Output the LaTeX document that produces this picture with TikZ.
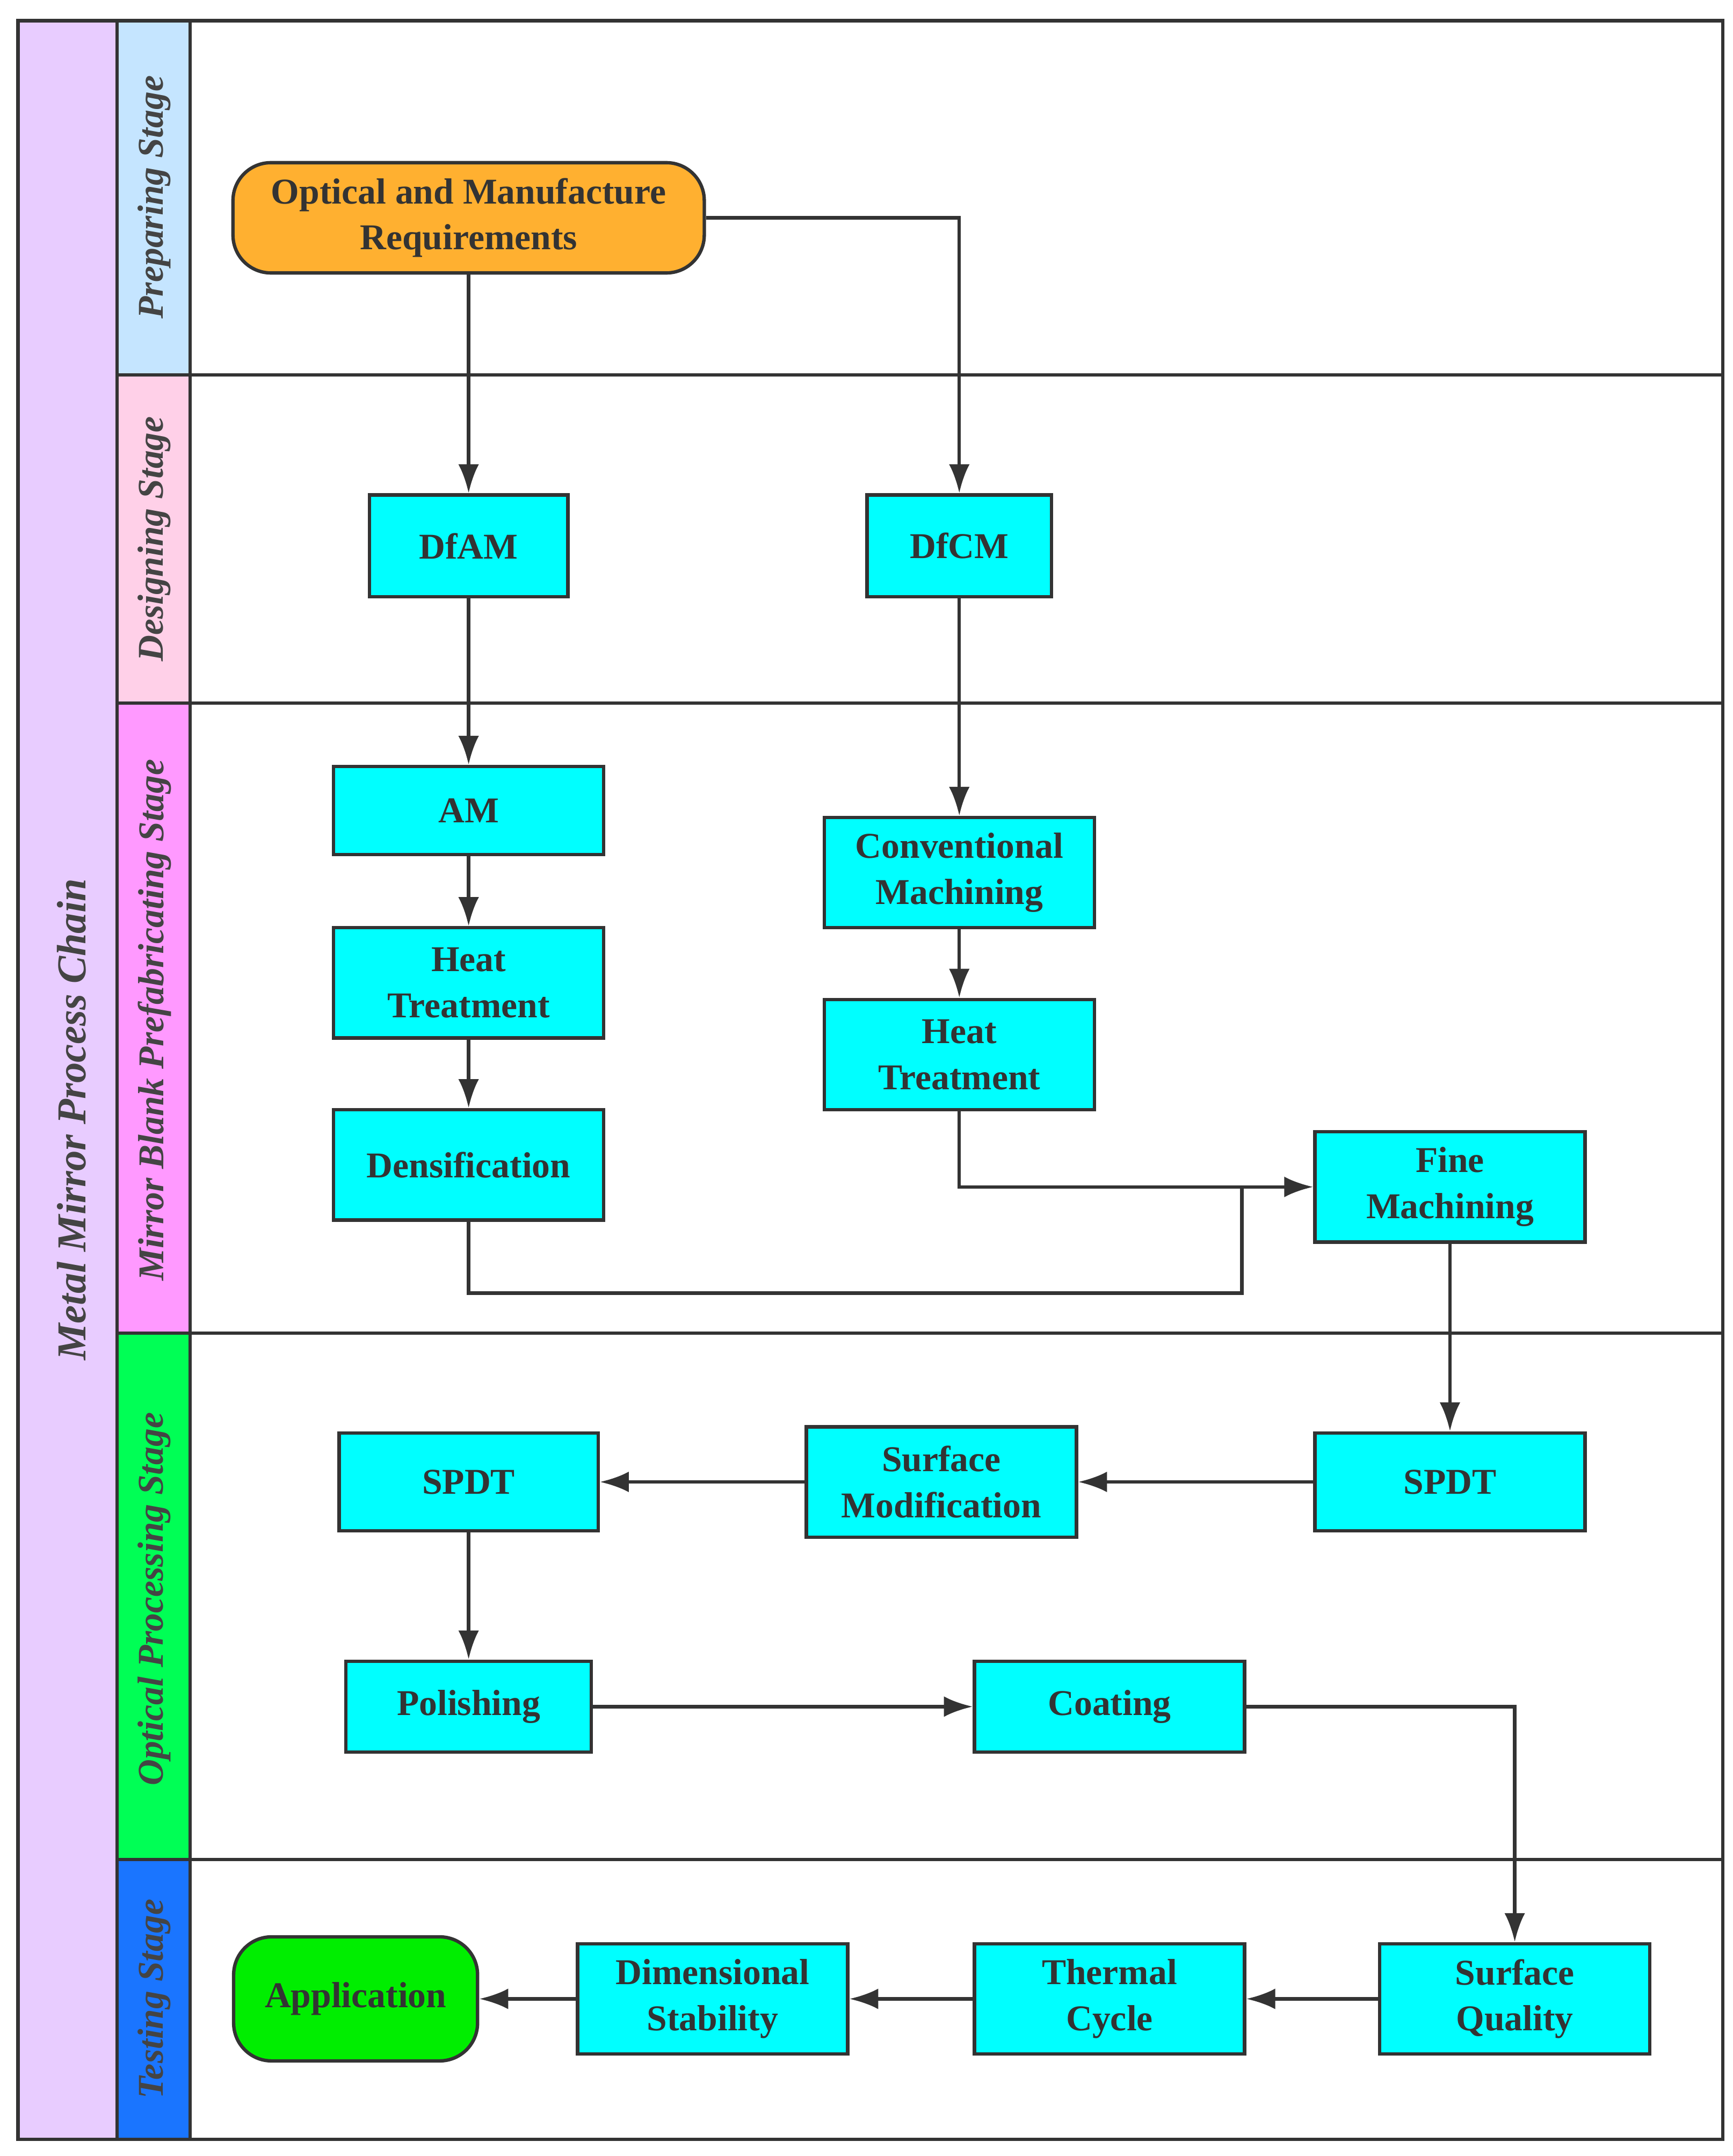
\documentclass[tikz,border=0pt]{standalone}
\usepackage{fontspec}
\setmainfont{Liberation Serif}
\usetikzlibrary{positioning,arrows.meta}
\definecolor{lineg}{HTML}{333333}
\definecolor{lanetxt}{HTML}{444444}
\definecolor{boxc}{HTML}{00FFFF}
\begin{document}
\begin{tikzpicture}[x=0.02cm,y=-0.02cm,
proc/.style={draw=lineg,line width=1.4pt,fill=boxc,align=center,text=lineg,
 font=\fontsize{15}{19}\selectfont\bfseries,inner sep=2pt},
term/.style={proc,rounded corners=0.55cm},
flow/.style={draw=lineg,line width=1.4pt,-{Latex[length=0.42cm,width=0.3cm]}},
lane/.style={rotate=90,font=\fontsize{15}{18}\selectfont\bfseries\itshape,text=lanetxt}]
 \useasboundingbox (0,0) rectangle (1257,1564);
 % lanes
 \fill[fill={rgb,255:red,232;green,204;blue,255}] (13,15) rectangle (85,1552);
 \fill[fill={rgb,255:red,197;green,229;blue,255}] (85,15) rectangle (138,272);
 \fill[fill={rgb,255:red,255;green,208;blue,232}] (85,272) rectangle (138,510);
 \fill[fill={rgb,255:red,255;green,153;blue,255}] (85,510) rectangle (138,967);
 \fill[fill={rgb,255:red,0;green,255;blue,85}] (85,967) rectangle (138,1349);
 \fill[fill={rgb,255:red,26;green,117;blue,255}] (85,1349) rectangle (138,1552);
 \draw[lineg,line width=1.4pt] (13,15) rectangle (1250,1552);
 \draw[lineg,line width=1.4pt] (85,15) -- (85,1552) (138,15) -- (138,1552);
 \foreach \Y in {272,510,967,1349}
   \draw[lineg,line width=1.4pt] (85,\Y) -- (1250,\Y);
 \node[lane,font=\fontsize{17}{20}\selectfont\bfseries\itshape] (title) at (52,812) {Metal Mirror Process Chain};
 \node[lane] (sPre) at (112,143) {Preparing Stage};
 \node[lane] (sDes) at (112,391) {Designing Stage};
 \node[lane] (sMir) at (112,740) {Mirror Blank Prefabricating Stage};
 \node[lane] (sOpt) at (112,1160) {Optical Processing Stage};
 \node[lane] (sTes) at (112,1450) {Testing Stage};
 % nodes
 \node[term,fill={rgb,255:red,255;green,176;blue,48},minimum width=6.84cm,minimum height=1.6cm] (req) at (340,158) {Optical and Manufacture\\Requirements};
 \node[proc,minimum width=2.88cm,minimum height=1.48cm] (dfam) at (340,396) {DfAM};
 \node[proc,minimum width=2.68cm,minimum height=1.48cm] (dfcm) at (696,396) {DfCM};
 \node[proc,minimum width=3.92cm,minimum height=1.28cm] (am) at (340,588) {AM};
 \node[proc,minimum width=3.92cm,minimum height=1.6cm] (ht1) at (340,713) {Heat\\Treatment};
 \node[proc,minimum width=3.92cm,minimum height=1.6cm] (dens) at (340,845) {Densification};
 \node[proc,minimum width=3.92cm,minimum height=1.6cm] (cm) at (696,633) {Conventional\\Machining};
 \node[proc,minimum width=3.92cm,minimum height=1.6cm] (ht2) at (696,765) {Heat\\Treatment};
 \node[proc,minimum width=3.92cm,minimum height=1.6cm] (fine) at (1052,861) {Fine\\Machining};
 \node[proc,minimum width=3.92cm,minimum height=1.42cm] (spdtA) at (1052,1075) {SPDT};
 \node[proc,minimum width=3.92cm,minimum height=1.6cm] (mod) at (683,1075) {Surface\\Modification};
 \node[proc,minimum width=3.76cm,minimum height=1.42cm] (spdtB) at (340,1075) {SPDT};
 \node[proc,minimum width=3.56cm,minimum height=1.32cm] (pol) at (340,1238) {Polishing};
 \node[proc,minimum width=3.92cm,minimum height=1.32cm] (coat) at (805,1238) {Coating};
 \node[proc,minimum width=3.92cm,minimum height=1.6cm] (qual) at (1099,1450) {Surface\\Quality};
 \node[proc,minimum width=3.92cm,minimum height=1.6cm] (therm) at (805,1450) {Thermal\\Cycle};
 \node[proc,minimum width=3.92cm,minimum height=1.6cm] (dim) at (517,1450) {Dimensional\\Stability};
 \node[term,fill={rgb,255:red,0;green,238;blue,0},minimum width=3.54cm,minimum height=1.8cm] (app) at (258,1450) {Application};
 % connectors
 \coordinate (join) at (901,938);
 \draw[flow] (req) -- (dfam);
 \draw[flow] (req.east) -| (dfcm);
 \draw[flow] (dfam) -- (am);
 \draw[flow] (dfcm) -- (cm);
 \draw[flow] (am) -- (ht1);
 \draw[flow] (ht1) -- (dens);
 \draw[flow] (cm) -- (ht2);
 \draw[flow] (ht2) |- (fine);
 \draw[draw=lineg,line width=1.4pt] (dens) |- (join) -- (join |- fine);
 \draw[flow] (fine) -- (spdtA);
 \draw[flow] (spdtA) -- (mod);
 \draw[flow] (mod) -- (spdtB);
 \draw[flow] (spdtB) -- (pol);
 \draw[flow] (pol) -- (coat);
 \draw[flow] (coat.east) -| (qual);
 \draw[flow] (qual) -- (therm);
 \draw[flow] (therm) -- (dim);
 \draw[flow] (dim) -- (app);
\end{tikzpicture}
\end{document}
